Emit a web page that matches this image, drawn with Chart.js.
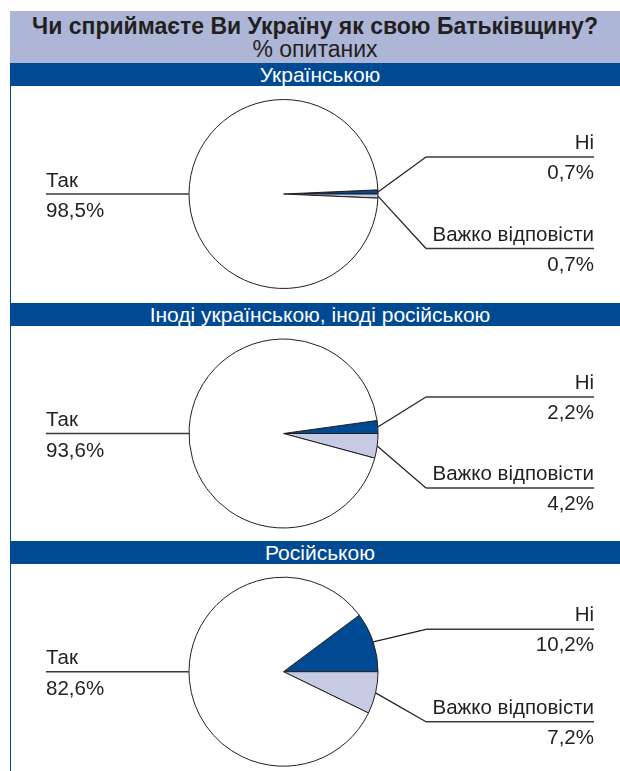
<!DOCTYPE html>
<html lang="uk">
<head>
<meta charset="utf-8">
<title>Чи сприймаєте Ви Україну як свою Батьківщину?</title>
<script src="https://cdn.jsdelivr.net/npm/chart.js@4.4.1/dist/chart.umd.min.js"></script>
<style>
  html, body { margin: 0; padding: 0; background: #fff; }
  body { width: 620px; height: 771px; position: relative; overflow: hidden; font-family: "Liberation Sans", Arial, sans-serif; color: #231f20; }
  .band { position: absolute; left: 10px; top: 11px; width: 610px; height: 52px; background: #aeb6d8; }
  .title { position: absolute; left: 10px; width: 610px; text-align: center; white-space: nowrap; }
  .t1 { top: 15px; font-size: 23px; line-height: 23px; font-weight: bold; }
  .t2 { top: 38px; font-size: 23px; line-height: 23px; }
  .bar { position: absolute; left: 10px; width: 610px; height: 23px; background: #004a93; color: #fff;
         font-size: 21px; line-height: 23px; text-align: center; white-space: nowrap; padding-left: 10px; box-sizing: border-box; }
  .edge { position: absolute; left: 10px; top: 86px; width: 1px; height: 685px; background: #004a93; }
  canvas { position: absolute; left: 0; }
</style>
</head>
<body>
<div class="band"></div>
<div class="title t1">Чи сприймаєте Ви Україну як свою Батьківщину?</div>
<div class="title t2">% опитаних</div>
<div class="edge"></div>
<div id="panels"></div>
<script>
// data
const groups = ['Українською', 'Іноді українською, іноді російською', 'Російською'];
const answers = ['Так', 'Ні', 'Важко відповісти'];
const yesValues = [98.5, 93.6, 82.6];
const noValues = [0.7, 2.2, 10.2];
const hardValues = [0.7, 4.2, 7.2];

// layout (page pixels)
const barTops = [63, 303, 541];
const panelBottoms = [303, 541, 771];
const pieCenterX = 283.5;
const pieCentersY = [194, 433.5, 671.7];
const pieRadius = 94.5;
const noElbowDy = [-37, -36.5, -42.4];
const hardElbowDy = [54.5, 54.5, 50];
const elbowX = 426;
const labelRight = 594;
const yesLeft = 46;

const INK = '#231f20';
const DARK = '#004a93';
const LIGHT = '#c6cbe3';
const LABEL_FONT = '20.5px "Liberation Sans", Arial, sans-serif';

function fmt(v) {
  return v.toFixed(1).replace('.', ',') + '%';
}

const calloutPlugin = {
  id: 'callouts',
  afterDatasetsDraw(chart, args, opts) {
    const ctx = chart.ctx;
    const arcs = chart.getDatasetMeta(0).data;
    const vals = chart.data.datasets[0].data;
    const names = chart.data.labels;
    const yes = arcs[2];
    const cx = yes.x, cy = yes.y, r = yes.outerRadius;
    ctx.save();
    ctx.fillStyle = INK;
    ctx.font = LABEL_FONT;
    ctx.textBaseline = 'alphabetic';

    // Так: plain line to the left of the pie
    ctx.strokeStyle = '#3a3a3a';
    ctx.lineWidth = 1.5;
    ctx.beginPath();
    ctx.moveTo(yesLeft, cy);
    ctx.lineTo(cx - r, cy);
    ctx.stroke();
    ctx.textAlign = 'left';
    ctx.fillText(names[2], yesLeft, cy - 7.5);
    ctx.fillText(fmt(vals[2]), yesLeft, cy + 23);

    // Ні and Важко відповісти: bent leaders to the right
    const dys = [opts.noDy, opts.hardDy];
    [0, 1].forEach(i => {
      const a = arcs[i];
      const mid = (a.startAngle + a.endAngle) / 2;
      const sx = cx + r * Math.cos(mid);
      const sy = cy + r * Math.sin(mid);
      const ly = cy + dys[i];
      ctx.strokeStyle = INK;
      ctx.lineWidth = 1.2;
      ctx.beginPath();
      ctx.moveTo(sx, sy);
      ctx.lineTo(elbowX, ly);
      ctx.stroke();
      ctx.strokeStyle = '#3a3a3a';
      ctx.lineWidth = 1.5;
      ctx.beginPath();
      ctx.moveTo(elbowX, ly);
      ctx.lineTo(labelRight, ly);
      ctx.stroke();
      ctx.textAlign = 'right';
      ctx.fillText(names[i], labelRight, ly - 8);
      ctx.fillText(fmt(vals[i]), labelRight, ly + 22);
    });
    ctx.restore();
  }
};

const panels = document.getElementById('panels');

groups.forEach((g, i) => {
  const bar = document.createElement('div');
  bar.className = 'bar';
  bar.style.top = barTops[i] + 'px';
  bar.textContent = g;
  panels.appendChild(bar);

  const top = barTops[i] + 23;
  const h = panelBottoms[i] - top;
  const canvas = document.createElement('canvas');
  canvas.style.top = top + 'px';
  canvas.style.width = '620px';
  canvas.style.height = h + 'px';
  canvas.width = 620;
  canvas.height = h;
  panels.appendChild(canvas);

  const cy = pieCentersY[i] - top;
  const padTop = Math.max(0, 2 * cy - h);
  const padBottom = Math.max(0, h - 2 * cy);

  new Chart(canvas, {
    type: 'pie',
    data: {
      labels: [answers[1], answers[2], answers[0]],
      datasets: [{
        data: [noValues[i], hardValues[i], yesValues[i]],
        backgroundColor: [DARK, LIGHT, '#ffffff'],
        borderColor: INK,
        borderWidth: 1
      }]
    },
    options: {
      responsive: false,
      animation: false,
      events: [],
      radius: pieRadius,
      // start the "Ні" slice just above 3 o'clock
      rotation: 90 - noValues[i] * 3.6,
      layout: { padding: { left: 0, right: 620 - 2 * pieCenterX, top: padTop, bottom: padBottom } },
      plugins: {
        legend: { display: false },
        tooltip: { enabled: false },
        callouts: { noDy: noElbowDy[i], hardDy: hardElbowDy[i] }
      }
    },
    plugins: [calloutPlugin]
  });
});
</script>
</body>
</html>
